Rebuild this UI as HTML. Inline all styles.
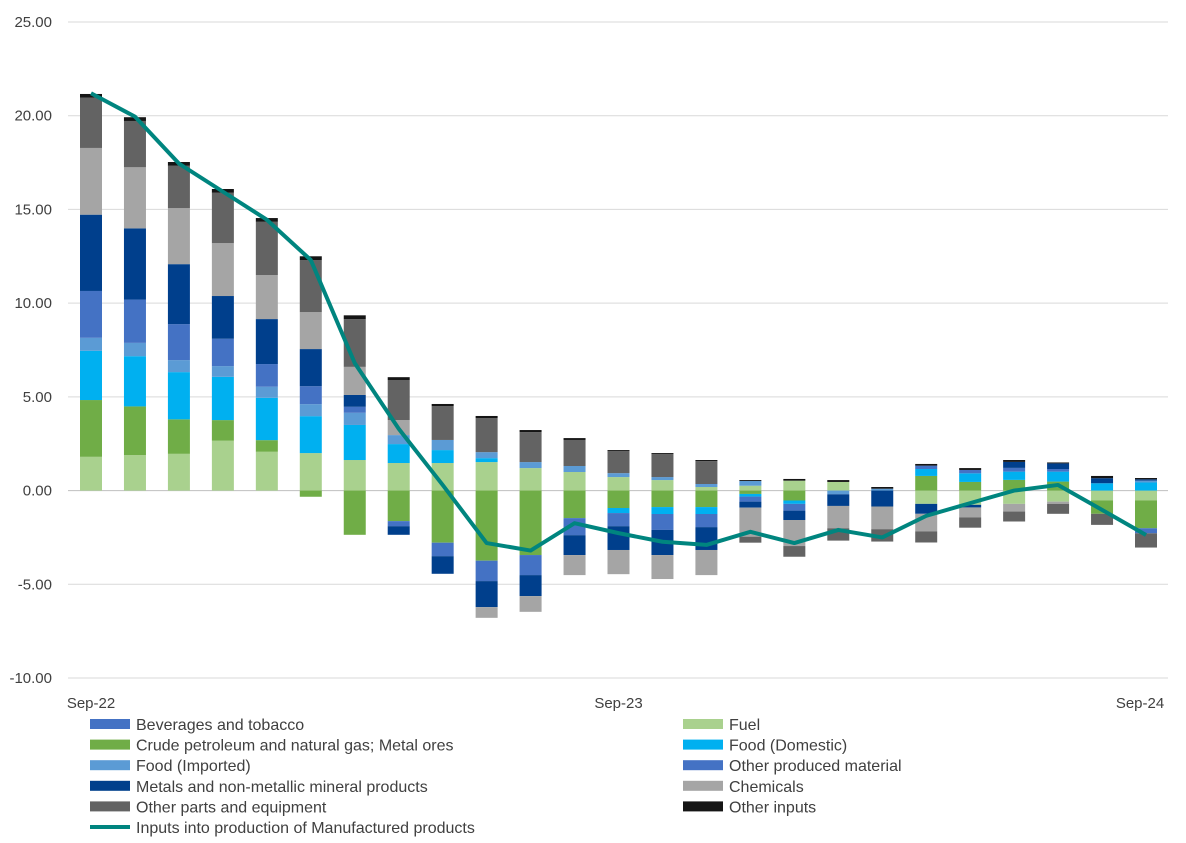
<!DOCTYPE html>
<html><head><meta charset="utf-8"><style>
body{margin:0;background:#fff;font-family:"Liberation Sans",Arial,sans-serif;}
svg text{font-family:"Liberation Sans",Arial,sans-serif;fill:#404040;}
</style></head><body>
<svg id="chart" width="1186" height="838" xmlns="http://www.w3.org/2000/svg"></svg>
<script>
const categories=["Sep-22","Oct-22","Nov-22","Dec-22","Jan-23","Feb-23","Mar-23","Apr-23","May-23","Jun-23","Jul-23","Aug-23","Sep-23","Oct-23","Nov-23","Dec-23","Jan-24","Feb-24","Mar-24","Apr-24","May-24","Jun-24","Jul-24","Aug-24","Sep-24"];
const xTickLabels=["Sep-22","Sep-23","Sep-24"];
const xTickIdx=[0,12,24];
const yTicks=[25,20,15,10,5,0,-5,-10];
const fuel=[1.80,1.89,1.96,2.66,2.07,2.00,1.63,1.47,1.47,1.52,1.20,0.99,0.72,0.56,0.19,0.26,0.53,0.46,0,-0.71,-0.76,-0.71,-0.59,-0.53,-0.53];
const crude=[3.03,2.60,1.84,1.10,0.62,-0.33,-2.36,-1.63,-2.78,-3.74,-3.44,-1.47,-0.93,-0.88,-0.88,-0.18,-0.53,0,0,0.78,0.46,0.57,0.48,-0.71,-1.48];
const foodDom=[2.63,2.68,2.52,2.31,2.26,1.97,1.87,1.01,0.69,0.21,0,0,-0.27,-0.37,-0.37,-0.14,-0.18,0,0,0.37,0.46,0.44,0.53,0.39,0.43];
const foodImp=[0.69,0.71,0.64,0.57,0.59,0.64,0.65,0.48,0.54,0.32,0.32,0.32,0.21,0.16,0.16,0.25,0,-0.2,0.1,0,0,0,0,0,0.10];
const beverages=[0,0,0,0,0,0,0,0,0,0,0,0,0,0,0,0,0,0,0,0,0,0,0,0,0];
const otherProduced=[2.50,2.31,1.92,1.46,1.21,0.96,0.32,-0.27,-0.72,-1.09,-1.07,-0.91,-0.70,-0.85,-0.70,-0.27,-0.36,0,0,0.18,0.18,0.20,0.14,0,-0.27];
const metals=[4.07,3.80,3.20,2.28,2.40,1.98,0.63,-0.46,-0.94,-1.39,-1.12,-1.06,-1.27,-1.34,-1.22,-0.32,-0.50,-0.62,-0.85,-0.53,-0.14,0.32,0.30,0.27,0.07];
const chemicals=[3.56,3.26,2.99,2.82,2.35,1.97,1.50,0.80,0,-0.57,-0.84,-1.07,-1.29,-1.28,-1.34,-1.55,-1.39,-1.19,-1.21,-0.94,-0.53,-0.41,-0.12,0,0];
const otherParts=[2.68,2.47,2.26,2.69,2.84,2.78,2.55,2.14,1.81,1.82,1.60,1.39,1.17,1.23,1.22,-0.32,-0.57,-0.66,-0.66,-0.59,-0.55,-0.53,-0.53,-0.59,-0.76];
const otherInputs=[0.20,0.20,0.20,0.20,0.20,0.20,0.20,0.15,0.11,0.11,0.11,0.10,0.06,0.05,0.06,0.05,0.09,0.10,0.09,0.09,0.10,0.10,0.05,0.12,0.07];
const total=[21.2,19.95,17.45,15.95,14.45,12.3,6.8,3.3,0.3,-2.8,-3.2,-1.74,-2.27,-2.73,-2.9,-2.2,-2.8,-2.1,-2.5,-1.35,-0.67,0.0,0.3,-1.03,-2.37];

const NS="http://www.w3.org/2000/svg";
const svg=document.getElementById('chart');
const yMin=-10,yMax=25,pTop=22,pBot=678,pL=68,pR=1168;
const y=v=>pTop+(yMax-v)*(pBot-pTop)/(yMax-yMin);
const x=i=>91+i*(1146-91)/(categories.length-1);
const bw=22;
function mk(t,a){const e=document.createElementNS(NS,t);for(const k in a)e.setAttribute(k,a[k]);svg.appendChild(e);return e;}

yTicks.forEach(t=>{
  const g=mk('line',{x1:pL,x2:pR,y1:y(t),y2:y(t),stroke:t===0?'#bfbfbf':'#d9d9d9','stroke-width':1});
  
  
  const tx=mk('text',{x:52,y:y(t)+5,'text-anchor':'end','font-size':15});
  tx.textContent=t.toFixed(2);
  
  
});
xTickIdx.forEach((ix,k)=>{
  const tx=mk('text',{x:Math.min(x(ix),1140),y:708,'text-anchor':'middle','font-size':15});
  tx.textContent=xTickLabels[k];
  
  
});

const series=[
 {n:'Fuel',d:fuel,c:'#A9D18E'},
 {n:'Crude petroleum and natural gas; Metal ores',d:crude,c:'#70AD47'},
 {n:'Food (Domestic)',d:foodDom,c:'#00B0F0'},
 {n:'Food (Imported)',d:foodImp,c:'#5B9BD5'},
 {n:'Beverages and tobacco',d:beverages,c:'#4472C4'},
 {n:'Other produced material',d:otherProduced,c:'#4472C4'},
 {n:'Metals and non-metallic mineral products',d:metals,c:'#003F8C'},
 {n:'Chemicals',d:chemicals,c:'#A5A5A5'},
 {n:'Other parts and equipment',d:otherParts,c:'#636363'},
 {n:'Other inputs',d:otherInputs,c:'#151515'}
];
categories.forEach((c,i)=>{
  let pos=0,neg=0;
  series.forEach(s=>{
    const v=s.d[i]; if(!v) return;
    let a,b;
    if(v>0){a=pos;b=pos+v;pos=b;}else{a=neg;b=neg+v;neg=b;}
    const top=y(Math.max(a,b)),bot=y(Math.min(a,b));
    const r=mk('rect',{x:x(i)-bw/2,y:top,width:bw,height:bot-top,fill:s.c});
    
    
  });
});
const pts=total.map((v,i)=>x(i)+','+y(v)).join(' ');
const pl=mk('polyline',{points:pts,fill:'none',stroke:'#00857F','stroke-width':4,'stroke-linejoin':'round'});



const leg=[
 ['Beverages and tobacco','#4472C4',0,0],['Fuel','#A9D18E',1,0],
 ['Crude petroleum and natural gas; Metal ores','#70AD47',0,1],['Food (Domestic)','#00B0F0',1,1],
 ['Food (Imported)','#5B9BD5',0,2],['Other produced material','#4472C4',1,2],
 ['Metals and non-metallic mineral products','#003F8C',0,3],['Chemicals','#A5A5A5',1,3],
 ['Other parts and equipment','#636363',0,4],['Other inputs','#151515',1,4]
];
leg.forEach(l=>{
  const sx=l[2]?683:90, ry=724+l[3]*20.6;
  const r=mk('rect',{x:sx,y:ry-5,width:40,height:10,fill:l[1]});
  
  
  const t=mk('text',{x:sx+46,y:ry+6,'font-size':16});
  t.textContent=l[0];
  
  
});
const ll=mk('line',{x1:90,x2:130,y1:827,y2:827,stroke:'#00857F','stroke-width':4});


const lt=mk('text',{x:136,y:833,'font-size':16});
lt.textContent='Inputs into production of Manufactured products';


</script>
</body></html>
